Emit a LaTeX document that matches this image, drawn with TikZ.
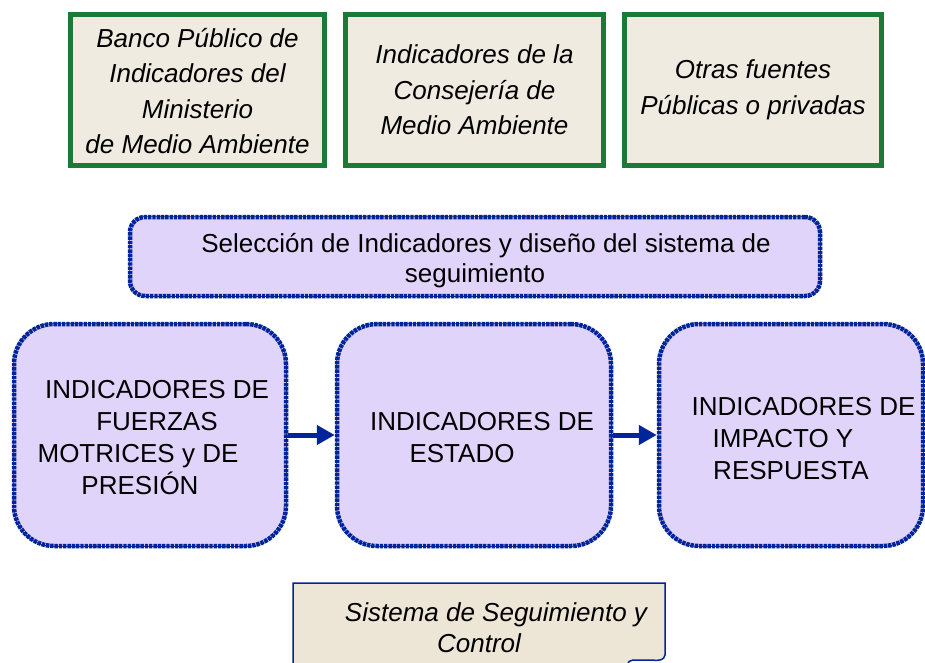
\documentclass[tikz,border=0pt]{standalone}
\usepackage{fontspec}
\setmainfont{Liberation Sans}
\usetikzlibrary{arrows.meta,positioning}
\definecolor{verdeborde}{RGB}{28,122,56}
\definecolor{beigefondo}{RGB}{240,235,224}
\definecolor{beigedoc}{RGB}{237,230,214}
\definecolor{lila}{RGB}{224,212,250}
\definecolor{azulborde}{RGB}{0,36,155}
\definecolor{azuloscuro}{RGB}{10,20,70}

\begin{document}
\begin{tikzpicture}[x=1pt,y=-1pt]
    \tikzstyle{fuente}=[rectangle,draw=verdeborde,fill=beigefondo,line width=5pt,inner sep=0pt,minimum height=151pt,align=center,font=\fontsize{26}{35.5}\selectfont\itshape]
    \tikzstyle{bloque}=[rectangle,fill=lila,draw=azulborde,line width=4.5pt,dash pattern=on 3.4pt off 0.9pt,preaction={draw=azuloscuro,line width=1.5pt,solid},inner sep=0pt,align=center]
    \tikzstyle{grupo}=[bloque,rounded corners=40pt,minimum width=272pt,minimum height=222pt,font=\fontsize{26}{32}\selectfont]
    \tikzstyle{flecha}=[draw=azulborde,line width=5pt,-{Triangle[length=18pt,width=19pt]}]
    \useasboundingbox[fill=white] (0,0) rectangle (925,663);
    \node[fuente,minimum width=254pt] (banco) at (197.5,90) {\rule{0pt}{21pt}Banco Público de\\Indicadores del\\Ministerio\\de Medio Ambiente};
    \node[fuente,minimum width=258pt] (consejeria) at (474.5,90) {Indicadores de la\\Consejería de\\Medio Ambiente};
    \node[fuente,minimum width=257pt] (otras) at (753,90) {Otras fuentes\\Públicas o privadas};
    \node[bloque,rounded corners=15pt,minimum width=690pt,minimum height=79pt,font=\fontsize{26}{30}\selectfont] (seleccion) at (475,256.5) {\rule{22pt}{0pt}\rule{0pt}{28pt}Selección de Indicadores y diseño del sistema de\\seguimiento};
    \node[grupo] (fuerzas) at (150,435) {\rule{14pt}{0pt}\rule{0pt}{23.7pt}INDICADORES DE\\\rule{14pt}{0pt}FUERZAS\\MOTRICES y DE\rule{24pt}{0pt}\\PRESIÓN\rule{20pt}{0pt}};
    \node[grupo,minimum width=274pt] (estado) at (474,435) {\rule{16pt}{0pt}\rule{0pt}{22.7pt}INDICADORES DE\\ESTADO\rule{24pt}{0pt}};
    \node[grupo,minimum width=264pt] (impacto) at (791,435) {\rule{25pt}{0pt}\rule{0pt}{25.7pt}INDICADORES DE\\IMPACTO Y\rule{16pt}{0pt}\\RESPUESTA};
    \draw[flecha] (fuerzas) -- (estado);
    \draw[flecha] (estado) -- (impacto);
    \filldraw[fill=beigedoc,draw=azulborde,line width=1.5pt] (293,665) -- (293,583) -- (665,583) -- (665,655) .. controls (664,660) and (660,661) .. (652,660) -- (633,660) .. controls (630,660) and (628,662) .. (627,665);
    \node[align=center,font=\fontsize{26}{31}\selectfont\itshape,inner sep=0pt] (sistema) at (496,627.5) {Sistema de Seguimiento y\\Control\rule{34pt}{0pt}};
\end{tikzpicture}
\end{document}
